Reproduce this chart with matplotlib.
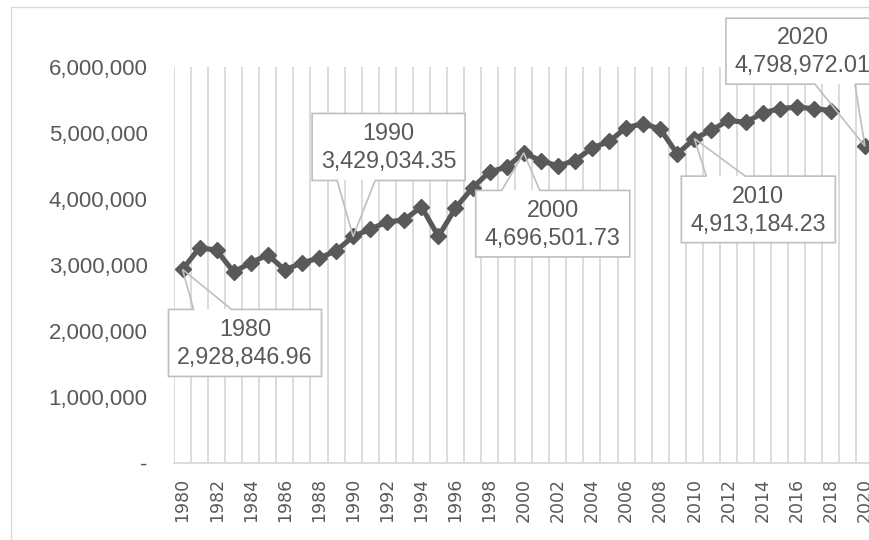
import numpy as np
import matplotlib
matplotlib.use('Agg')
import matplotlib.pyplot as plt
from matplotlib.patches import Rectangle, Polygon
from matplotlib.transforms import ScaledTranslation

# data (2019 has no point)
years = list(range(1980, 2021))
values = [2928846.96, 3260000, 3220000, 2890000, 3030000, 3150000, 2920000, 3030000,
          3100000, 3210000, 3429034.35, 3540000, 3650000, 3680000, 3880000, 3430000,
          3860000, 4170000, 4410000, 4480000, 4696501.73, 4580000, 4500000, 4580000,
          4770000, 4870000, 5080000, 5140000, 5060000, 4680000, 4913184.23, 5040000,
          5190000, 5160000, 5300000, 5370000, 5390000, 5370000, 5340000, np.nan,
          4798972.01]
label_years = [1980, 1990, 2000, 2010, 2020]
ytick_vals = [0, 1000000, 2000000, 3000000, 4000000, 5000000, 6000000]
ytick_labels = ['-', '1,000,000', '2,000,000', '3,000,000', '4,000,000', '5,000,000', '6,000,000']
xtick_years = list(range(1980, 2021, 2))

# callout boxes in pixels relative to the point (left, right, top, bottom, side, p1, p2), y down
callout_layout = {
    1980: (-14, 139, 40, 107, 'top', 11, 49),
    1990: (-41, 112, -123, -56, 'bottom', -16, 22),
    2000: (-48, 106, 37.5, 104, 'top', -22, 16),
    2010: (-13, 141, 37.5, 104, 'top', 12, 51),
    2020: (-139, 15, -128, -62, 'bottom', -50, -10),
}

txt_col = '#595959'
grid_col = '#d9d9d9'
plt.rcParams['font.family'] = ['Liberation Sans', 'DejaVu Sans']

fig = plt.figure(figsize=(8.7, 5.4), dpi=100)
W, H = 870, 540
ax = fig.add_axes([174 / W, 1 - 462.5 / H, 41 * 17.06 / W, (462.5 - 67) / H])

x = np.arange(len(years))
ax.plot(x, values, color=txt_col, lw=3.7, marker='D', ms=8.5, zorder=3)

ax.set_xlim(-0.5, len(years) - 0.5)
ax.set_ylim(0, 6000000)

# gridlines between categories
ax.set_xticks(np.arange(-0.5, len(years), 1), minor=True)
ax.grid(True, which='minor', axis='x', color=grid_col, lw=1.3)
ax.tick_params(axis='x', which='minor', length=0)

ax.set_xticks([years.index(y) for y in xtick_years])
ax.set_xticklabels([str(y) for y in xtick_years], rotation=90, fontsize=12.5,
                   color=txt_col, family='DejaVu Sans')
ax.tick_params(axis='x', which='major', length=0, pad=11)
ax.set_yticks(ytick_vals)
ax.set_yticklabels(ytick_labels, fontsize=16, color=txt_col)
ax.tick_params(axis='y', length=0, pad=19)

for s in ['top', 'right', 'left']:
    ax.spines[s].set_visible(False)
ax.spines['bottom'].set_color(grid_col)
ax.spines['bottom'].set_linewidth(1.3)

# callouts
for yr in label_years:
    i = years.index(yr)
    v = values[i]
    L, R, T, B, side, p1, p2 = callout_layout[yr]
    tr = fig.dpi_scale_trans + ScaledTranslation(i, v, ax.transData)
    L, R, T, B, p1, p2 = L / 100, R / 100, -T / 100, -B / 100, p1 / 100, p2 / 100
    ax.add_artist(Rectangle((L, B), R - L, T - B, transform=tr, facecolor='white',
                            edgecolor='none', zorder=5, clip_on=False))
    if side == 'top':
        pts = [(p1, T), (0, 0), (p2, T), (R, T), (R, B), (L, B), (L, T)]
    else:
        pts = [(p2, B), (0, 0), (p1, B), (L, B), (L, T), (R, T), (R, B)]
    ax.add_artist(Polygon(pts, closed=True, transform=tr, fill=False,
                          edgecolor='#bfbfbf', lw=1.2, zorder=6, clip_on=False))
    cx = (L + R) / 2
    ax.text(cx, T + 0.3 * (B - T), str(yr), transform=tr, ha='center', va='center',
            fontsize=16.8, color=txt_col, zorder=7)
    ax.text(cx, T + 0.72 * (B - T), f'{v:,.2f}', transform=tr, ha='center', va='center',
            fontsize=16.8, color=txt_col, zorder=7)

# chart area border
fig.add_artist(Rectangle((11 / W, -0.5), 2, 1.5 - 7 / H, transform=fig.transFigure,
                         fill=False, edgecolor=grid_col, lw=1))

fig.savefig('out.png', dpi=100)
